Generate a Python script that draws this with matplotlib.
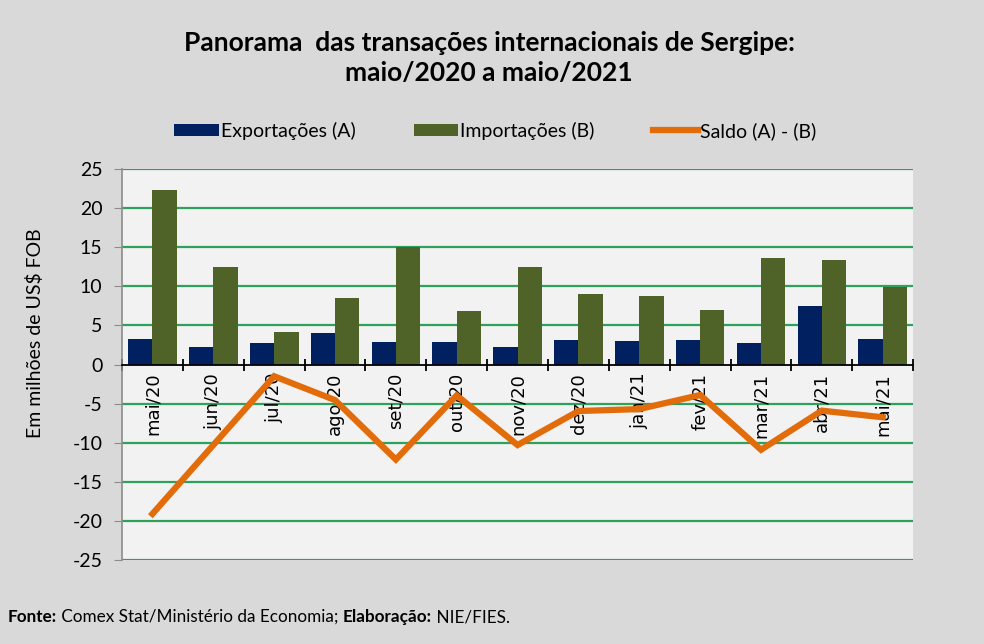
import matplotlib
matplotlib.use("Agg")
import matplotlib.pyplot as plt
import numpy as np

categories = ["mai/20", "jun/20", "jul/20", "ago/20", "set/20", "out/20", "nov/20",
              "dez/20", "jan/21", "fev/21", "mar/21", "abr/21", "mai/21"]
exportacoes = [3.2, 2.2, 2.7, 4.0, 2.85, 2.85, 2.2, 3.1, 3.0, 3.1, 2.7, 7.5, 3.2]
importacoes = [22.3, 12.5, 4.2, 8.55, 15.0, 6.8, 12.5, 9.05, 8.7, 7.0, 13.6, 13.4, 9.95]
saldo = [-19.1, -10.3, -1.5, -4.55, -12.15, -3.95, -10.3, -5.95, -5.7, -3.9, -10.9, -5.9, -6.75]
yticks = [-25, -20, -15, -10, -5, 0, 5, 10, 15, 20, 25]

BG = "#d9d9d9"
PLOT_BG = "#f2f2f2"
C_EXP = "#002060"
C_IMP = "#4f6228"
C_SAL = "#e36c0a"
C_GRID = "#2ea25c"
FONT = "Lato"

fig = plt.figure(figsize=(9.84, 6.44), dpi=100, facecolor=BG)
ax = fig.add_axes([0.124, 0.1304, 0.804, 0.6072])
ax.set_facecolor(PLOT_BG)

x = np.arange(len(categories))
w = 0.4
b1 = ax.bar(x - w / 2, exportacoes, width=w, color=C_EXP, label="Exportações (A)", zorder=3)
b2 = ax.bar(x + w / 2, importacoes, width=w, color=C_IMP, label="Importações (B)", zorder=3)
l1, = ax.plot(x, saldo, color=C_SAL, lw=4.5, label="Saldo (A) - (B)", zorder=4,
              solid_joinstyle="miter")

ax.set_xlim(-0.5, len(categories) - 0.5)
ax.set_ylim(-25, 25)
ax.set_yticks(yticks)
ax.set_yticklabels([str(v) for v in yticks], fontsize=14, family=FONT)
for v in yticks:
    if v != 0:
        ax.axhline(v, color=C_GRID, lw=1.6, zorder=1)

for s in ["top", "right"]:
    ax.spines[s].set_visible(False)
ax.spines["left"].set_color("#8c8c8c")
ax.spines["left"].set_linewidth(1.2)
ax.spines["bottom"].set_position(("data", 0))
ax.spines["bottom"].set_color("black")
ax.spines["bottom"].set_linewidth(1.3)
ax.spines["bottom"].set_zorder(5)

ax.tick_params(axis="y", direction="out", length=6, color="#8c8c8c", pad=8, labelcolor="black")
ax.set_xticks(np.arange(len(categories) + 1) - 0.5)
ax.set_xticklabels([])
ax.tick_params(axis="x", which="major", direction="inout", length=9, width=1.3, color="black")
ax.set_xticks(x, minor=True)
ax.set_xticklabels(categories, minor=True, rotation=90, fontsize=13,
                   family="DejaVu Sans", va="top", ha="center")
ax.tick_params(axis="x", which="minor", length=0, pad=6)

fig.text(0.036, 0.482, "Em milhões de US$ FOB", rotation=90, fontsize=14,
         family=FONT, ha="center", va="center")

fig.text(0.497, 0.933, "Panorama  das transações internacionais de Sergipe:",
         fontsize=19, fontweight="bold", family=FONT, ha="center", va="center")
fig.text(0.497, 0.886, "maio/2020 a maio/2021",
         fontsize=19, fontweight="bold", family=FONT, ha="center", va="center")

leg = fig.legend(handles=[b1, b2, l1], loc="center", bbox_to_anchor=(0.503, 0.797),
                 ncol=3, frameon=False, prop={"family": FONT, "size": 14},
                 handlelength=2.3, handleheight=0.55, handletextpad=0.1, columnspacing=3.0)

FS = 12.3
t1 = fig.text(0.008, 0.034, "Fonte:", fontsize=FS, fontweight="bold", family=FONT,
              ha="left", va="baseline")
t2 = fig.text(0, 0, " Comex Stat/Ministério da Economia; ", fontsize=FS, family=FONT,
              ha="left", va="baseline")
t3 = fig.text(0, 0, "Elaboração:", fontsize=FS, fontweight="bold", family=FONT,
              ha="left", va="baseline")
t4 = fig.text(0, 0, " NIE/FIES.", fontsize=FS, family=FONT, ha="left", va="baseline")
fig.canvas.draw()
r = fig.canvas.get_renderer()
prev = t1
for t in (t2, t3, t4):
    bb = prev.get_window_extent(r)
    x1 = fig.transFigure.inverted().transform((bb.x1, bb.y0))[0]
    t.set_position((x1, 0.034))
    fig.canvas.draw()
    prev = t

fig.savefig("out.png", dpi=100, facecolor=BG)
